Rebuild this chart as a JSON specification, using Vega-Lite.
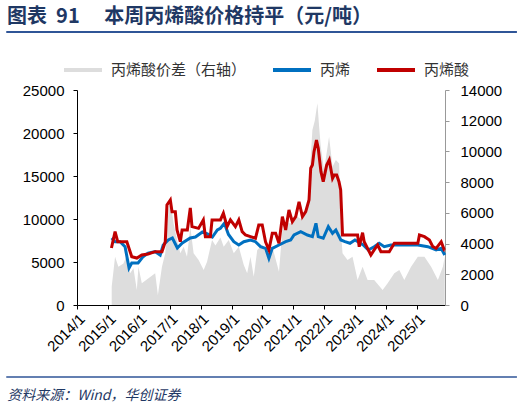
{
  "$schema": "https://vega.github.io/schema/vega-lite/v6.json",
  "description": "Acrylic acid price vs propylene price and acrylic acid spread",
  "width": 368,
  "height": 215,
  "autosize": {"type": "none"},
  "padding": {"left": 77, "top": 90, "right": 78, "bottom": 104},
  "title": {
    "text": "图表\u00a0\u00a091\u3000\u00a0本周丙烯酸价格持平（元/吨）",
    "anchor": "start",
    "frame": "group",
    "dx": -70,
    "offset": 4,
    "font": "Noto Sans CJK SC",
    "fontSize": 20,
    "fontWeight": "bold",
    "color": "#1F3864"
  },
  "datasets": {
    "spread": [
      {"d": "2015-02-15", "v": 1190}, {"d": "2015-03-27", "v": 3140}, {"d": "2015-05-05", "v": 2490},
      {"d": "2015-07-04", "v": 2710}, {"d": "2015-08-13", "v": 3260}, {"d": "2015-09-21", "v": 2060},
      {"d": "2015-10-30", "v": 2390}, {"d": "2015-12-09", "v": 980}, {"d": "2015-12-28", "v": 2490},
      {"d": "2016-02-06", "v": 1410}, {"d": "2016-04-25", "v": 1740}, {"d": "2016-07-13", "v": 2060},
      {"d": "2016-08-14", "v": 650}, {"d": "2016-10-01", "v": 2490}, {"d": "2016-11-09", "v": 3370},
      {"d": "2016-12-18", "v": 6180}, {"d": "2017-01-08", "v": 6840}, {"d": "2017-02-15", "v": 5320},
      {"d": "2017-03-28", "v": 4230}, {"d": "2017-05-06", "v": 3370}, {"d": "2017-06-14", "v": 3800},
      {"d": "2017-07-24", "v": 3140}, {"d": "2017-09-01", "v": 5100}, {"d": "2017-10-10", "v": 3370},
      {"d": "2017-12-08", "v": 2930}, {"d": "2018-02-06", "v": 2280}, {"d": "2018-03-18", "v": 2820},
      {"d": "2018-05-16", "v": 4230}, {"d": "2018-06-25", "v": 3880}, {"d": "2018-08-23", "v": 4400},
      {"d": "2018-10-01", "v": 3800}, {"d": "2018-11-29", "v": 4230}, {"d": "2019-01-28", "v": 3370},
      {"d": "2019-03-28", "v": 3800}, {"d": "2019-05-26", "v": 2600}, {"d": "2019-07-05", "v": 2060},
      {"d": "2019-08-13", "v": 3140}, {"d": "2019-09-21", "v": 1840}, {"d": "2019-11-01", "v": 3580},
      {"d": "2019-12-30", "v": 3910}, {"d": "2020-02-27", "v": 3140}, {"d": "2020-04-27", "v": 3800},
      {"d": "2020-07-15", "v": 2170}, {"d": "2020-08-24", "v": 4880}, {"d": "2020-10-22", "v": 5320},
      {"d": "2020-12-20", "v": 5320}, {"d": "2021-02-18", "v": 5750}, {"d": "2021-04-18", "v": 5530},
      {"d": "2021-06-16", "v": 6400}, {"d": "2021-07-13", "v": 8500}, {"d": "2021-08-14", "v": 11390},
      {"d": "2021-09-11", "v": 12000}, {"d": "2021-10-12", "v": 13130}, {"d": "2021-11-03", "v": 11500},
      {"d": "2021-11-21", "v": 10300}, {"d": "2021-12-30", "v": 8790}, {"d": "2022-02-01", "v": 10000},
      {"d": "2022-02-27", "v": 10960}, {"d": "2022-04-09", "v": 9000}, {"d": "2022-05-18", "v": 9440},
      {"d": "2022-06-26", "v": 9220}, {"d": "2022-07-16", "v": 4880}, {"d": "2022-08-05", "v": 3370},
      {"d": "2022-10-03", "v": 2930}, {"d": "2022-12-01", "v": 3140}, {"d": "2023-01-30", "v": 1630},
      {"d": "2023-03-30", "v": 2490}, {"d": "2023-05-28", "v": 1630}, {"d": "2023-08-14", "v": 1630},
      {"d": "2023-11-22", "v": 980}, {"d": "2024-01-20", "v": 1410}, {"d": "2024-04-08", "v": 2060},
      {"d": "2024-06-06", "v": 2280}, {"d": "2024-08-04", "v": 1630}, {"d": "2024-10-23", "v": 2490},
      {"d": "2025-01-11", "v": 3140}, {"d": "2025-03-30", "v": 3140}, {"d": "2025-06-17", "v": 2490},
      {"d": "2025-09-05", "v": 1630}, {"d": "2025-11-03", "v": 2490}, {"d": "2025-11-25", "v": 3140}
    ],
    "price": [
      {"d": "2015-02-15", "k": "丙烯", "v": 7780}, {"d": "2015-03-27", "k": "丙烯", "v": 7360},
      {"d": "2015-05-25", "k": "丙烯", "v": 7360}, {"d": "2015-07-23", "k": "丙烯", "v": 6780},
      {"d": "2015-09-08", "k": "丙烯", "v": 4300}, {"d": "2015-10-10", "k": "丙烯", "v": 4880},
      {"d": "2015-12-24", "k": "丙烯", "v": 4880}, {"d": "2016-02-21", "k": "丙烯", "v": 5620},
      {"d": "2016-04-20", "k": "丙烯", "v": 6040}, {"d": "2016-07-13", "k": "丙烯", "v": 6200},
      {"d": "2016-09-10", "k": "丙烯", "v": 5810}, {"d": "2016-10-16", "k": "丙烯", "v": 6980},
      {"d": "2016-12-15", "k": "丙烯", "v": 7560}, {"d": "2017-02-01", "k": "丙烯", "v": 7790},
      {"d": "2017-04-01", "k": "丙烯", "v": 6630}, {"d": "2017-05-30", "k": "丙烯", "v": 7210},
      {"d": "2017-09-01", "k": "丙烯", "v": 7790}, {"d": "2017-10-31", "k": "丙烯", "v": 7910},
      {"d": "2018-01-22", "k": "丙烯", "v": 8490}, {"d": "2018-03-22", "k": "丙烯", "v": 8260},
      {"d": "2018-05-20", "k": "丙烯", "v": 7900}, {"d": "2018-07-18", "k": "丙烯", "v": 8720},
      {"d": "2018-08-23", "k": "丙烯", "v": 8920}, {"d": "2018-10-09", "k": "丙烯", "v": 9500},
      {"d": "2018-11-26", "k": "丙烯", "v": 8200}, {"d": "2019-01-28", "k": "丙烯", "v": 7360},
      {"d": "2019-03-28", "k": "丙烯", "v": 6980}, {"d": "2019-05-26", "k": "丙烯", "v": 7360},
      {"d": "2019-08-13", "k": "丙烯", "v": 7560}, {"d": "2019-10-11", "k": "丙烯", "v": 7360},
      {"d": "2019-12-10", "k": "丙烯", "v": 6780}, {"d": "2020-02-07", "k": "丙烯", "v": 6590},
      {"d": "2020-03-18", "k": "丙烯", "v": 5430}, {"d": "2020-04-27", "k": "丙烯", "v": 6590},
      {"d": "2020-07-15", "k": "丙烯", "v": 6980}, {"d": "2020-10-02", "k": "丙烯", "v": 7360},
      {"d": "2020-11-30", "k": "丙烯", "v": 7560}, {"d": "2021-01-09", "k": "丙烯", "v": 8140},
      {"d": "2021-03-29", "k": "丙烯", "v": 8530}, {"d": "2021-06-16", "k": "丙烯", "v": 8140},
      {"d": "2021-08-14", "k": "丙烯", "v": 7950}, {"d": "2021-09-25", "k": "丙烯", "v": 9500},
      {"d": "2021-10-22", "k": "丙烯", "v": 7950}, {"d": "2021-12-20", "k": "丙烯", "v": 7760},
      {"d": "2022-02-18", "k": "丙烯", "v": 9110}, {"d": "2022-04-09", "k": "丙烯", "v": 8340},
      {"d": "2022-05-18", "k": "丙烯", "v": 8720}, {"d": "2022-07-16", "k": "丙烯", "v": 7560},
      {"d": "2022-09-03", "k": "丙烯", "v": 7360}, {"d": "2022-11-01", "k": "丙烯", "v": 7180},
      {"d": "2022-12-30", "k": "丙烯", "v": 7560}, {"d": "2023-02-03", "k": "丙烯", "v": 7360},
      {"d": "2023-04-07", "k": "丙烯", "v": 6980}, {"d": "2023-06-05", "k": "丙烯", "v": 6400},
      {"d": "2023-08-14", "k": "丙烯", "v": 6780}, {"d": "2023-10-12", "k": "丙烯", "v": 7180},
      {"d": "2023-12-11", "k": "丙烯", "v": 6780}, {"d": "2024-02-28", "k": "丙烯", "v": 6980},
      {"d": "2024-05-17", "k": "丙烯", "v": 6980}, {"d": "2024-09-13", "k": "丙烯", "v": 6980},
      {"d": "2025-01-11", "k": "丙烯", "v": 6980}, {"d": "2025-05-09", "k": "丙烯", "v": 6780},
      {"d": "2025-08-15", "k": "丙烯", "v": 6400}, {"d": "2025-10-14", "k": "丙烯", "v": 6590},
      {"d": "2025-11-25", "k": "丙烯", "v": 5810},
      {"d": "2015-02-12", "k": "丙烯酸", "v": 6630}, {"d": "2015-03-27", "k": "丙烯酸", "v": 8530},
      {"d": "2015-04-27", "k": "丙烯酸", "v": 7360}, {"d": "2015-05-25", "k": "丙烯酸", "v": 7360},
      {"d": "2015-08-13", "k": "丙烯酸", "v": 7360}, {"d": "2015-10-10", "k": "丙烯酸", "v": 5620},
      {"d": "2015-12-09", "k": "丙烯酸", "v": 5460}, {"d": "2016-02-06", "k": "丙烯酸", "v": 5810},
      {"d": "2016-04-20", "k": "丙烯酸", "v": 5930}, {"d": "2016-07-13", "k": "丙烯酸", "v": 6200},
      {"d": "2016-10-01", "k": "丙烯酸", "v": 6200}, {"d": "2016-11-09", "k": "丙烯酸", "v": 7360},
      {"d": "2016-11-29", "k": "丙烯酸", "v": 11630}, {"d": "2017-01-08", "k": "丙烯酸", "v": 12210},
      {"d": "2017-01-28", "k": "丙烯酸", "v": 10850}, {"d": "2017-03-08", "k": "丙烯酸", "v": 10850},
      {"d": "2017-03-28", "k": "丙烯酸", "v": 8720}, {"d": "2017-05-06", "k": "丙烯酸", "v": 7360},
      {"d": "2017-05-27", "k": "丙烯酸", "v": 8720}, {"d": "2017-07-28", "k": "丙烯酸", "v": 8720},
      {"d": "2017-09-01", "k": "丙烯酸", "v": 11280}, {"d": "2017-09-21", "k": "丙烯酸", "v": 9110},
      {"d": "2017-12-07", "k": "丙烯酸", "v": 8910}, {"d": "2018-02-02", "k": "丙烯酸", "v": 9890},
      {"d": "2018-02-26", "k": "丙烯酸", "v": 7950}, {"d": "2018-04-26", "k": "丙烯酸", "v": 7950},
      {"d": "2018-05-16", "k": "丙烯酸", "v": 9890}, {"d": "2018-08-23", "k": "丙烯酸", "v": 9890},
      {"d": "2018-09-27", "k": "丙烯酸", "v": 10670}, {"d": "2018-11-10", "k": "丙烯酸", "v": 9110},
      {"d": "2018-12-19", "k": "丙烯酸", "v": 9890}, {"d": "2019-02-16", "k": "丙烯酸", "v": 9110},
      {"d": "2019-03-28", "k": "丙烯酸", "v": 9890}, {"d": "2019-05-07", "k": "丙烯酸", "v": 8530},
      {"d": "2019-06-15", "k": "丙烯酸", "v": 8140}, {"d": "2019-08-13", "k": "丙烯酸", "v": 7950},
      {"d": "2019-10-11", "k": "丙烯酸", "v": 7760}, {"d": "2019-11-19", "k": "丙烯酸", "v": 9300},
      {"d": "2019-12-30", "k": "丙烯酸", "v": 9300}, {"d": "2020-02-07", "k": "丙烯酸", "v": 7360},
      {"d": "2020-03-18", "k": "丙烯酸", "v": 6400}, {"d": "2020-04-27", "k": "丙烯酸", "v": 8340},
      {"d": "2020-06-05", "k": "丙烯酸", "v": 8340}, {"d": "2020-07-15", "k": "丙烯酸", "v": 7180},
      {"d": "2020-08-24", "k": "丙烯酸", "v": 10270}, {"d": "2020-10-02", "k": "丙烯酸", "v": 8720},
      {"d": "2020-11-10", "k": "丙烯酸", "v": 11050}, {"d": "2020-12-20", "k": "丙烯酸", "v": 9690},
      {"d": "2021-01-29", "k": "丙烯酸", "v": 10270}, {"d": "2021-03-09", "k": "丙烯酸", "v": 12010},
      {"d": "2021-04-18", "k": "丙烯酸", "v": 10270}, {"d": "2021-05-27", "k": "丙烯酸", "v": 10850},
      {"d": "2021-07-05", "k": "丙烯酸", "v": 12210}, {"d": "2021-07-25", "k": "丙烯酸", "v": 15900},
      {"d": "2021-08-14", "k": "丙烯酸", "v": 16280}, {"d": "2021-09-02", "k": "丙烯酸", "v": 17830},
      {"d": "2021-10-01", "k": "丙烯酸", "v": 19190}, {"d": "2021-10-22", "k": "丙烯酸", "v": 18220},
      {"d": "2021-11-23", "k": "丙烯酸", "v": 15500}, {"d": "2021-12-20", "k": "丙烯酸", "v": 14340},
      {"d": "2022-01-30", "k": "丙烯酸", "v": 16280}, {"d": "2022-03-01", "k": "丙烯酸", "v": 16860},
      {"d": "2022-04-09", "k": "丙烯酸", "v": 14730}, {"d": "2022-04-29", "k": "丙烯酸", "v": 15120},
      {"d": "2022-05-28", "k": "丙烯酸", "v": 15120}, {"d": "2022-06-24", "k": "丙烯酸", "v": 14340},
      {"d": "2022-07-14", "k": "丙烯酸", "v": 13370}, {"d": "2022-08-05", "k": "丙烯酸", "v": 8140},
      {"d": "2023-01-30", "k": "丙烯酸", "v": 8140}, {"d": "2023-02-18", "k": "丙烯酸", "v": 6780},
      {"d": "2023-03-30", "k": "丙烯酸", "v": 8410}, {"d": "2023-04-18", "k": "丙烯酸", "v": 7360},
      {"d": "2023-05-28", "k": "丙烯酸", "v": 6590}, {"d": "2023-07-06", "k": "丙烯酸", "v": 5810},
      {"d": "2023-08-14", "k": "丙烯酸", "v": 6400}, {"d": "2023-09-24", "k": "丙烯酸", "v": 6980},
      {"d": "2023-11-02", "k": "丙烯酸", "v": 6200}, {"d": "2024-02-08", "k": "丙烯酸", "v": 6200},
      {"d": "2024-04-08", "k": "丙烯酸", "v": 7180}, {"d": "2024-08-25", "k": "丙烯酸", "v": 7180},
      {"d": "2025-01-11", "k": "丙烯酸", "v": 7180}, {"d": "2025-01-30", "k": "丙烯酸", "v": 8140},
      {"d": "2025-03-30", "k": "丙烯酸", "v": 7950}, {"d": "2025-05-28", "k": "丙烯酸", "v": 7560},
      {"d": "2025-07-07", "k": "丙烯酸", "v": 6780}, {"d": "2025-08-15", "k": "丙烯酸", "v": 6590},
      {"d": "2025-10-14", "k": "丙烯酸", "v": 7360}, {"d": "2025-11-20", "k": "丙烯酸", "v": 6400},
      {"d": "2025-11-25", "k": "丙烯酸", "v": 6400}
    ],
    "frame": [
      {"a": "2011-09-18", "b": "2028-03-27", "y": 31750, "w": 2},
      {"a": "2011-09-18", "b": "2028-03-27", "y": -8370, "w": 1.5}
    ]
  },
  "resolve": {"scale": {"y": "independent"}},
  "layer": [
    {
      "data": {"name": "spread"},
      "mark": {"type": "area", "color": "#DDDDDD", "interpolate": "linear"},
      "encoding": {
        "x": {
          "field": "d",
          "type": "temporal",
          "scale": {"domain": ["2014-01-01", "2025-11-28"]},
          "axis": {
            "tickCount": {"interval": "year", "step": 1},
            "format": "%Y/%-m",
            "labelAngle": -45,
            "labelFontSize": 15,
            "labelPadding": 2,
            "labelOverlap": false,
            "title": null
          }
        },
        "y": {
          "field": "v",
          "type": "quantitative",
          "scale": {"domain": [0, 14000], "nice": false},
          "axis": {
            "orient": "right",
            "values": [0, 2000, 4000, 6000, 8000, 10000, 12000, 14000],
            "format": "d",
            "domainColor": "#999999",
            "tickColor": "#999999",
            "labelPadding": 11,
            "title": null
          }
        },
        "color": {
          "datum": "丙烯酸价差（右轴）",
          "title": null,
          "scale": {
            "domain": ["丙烯酸价差（右轴）", "丙烯", "丙烯酸"],
            "range": ["#DDDDDD", "#0070C0", "#C00000"]
          },
          "legend": {
            "orient": "none",
            "legendX": -15,
            "legendY": -41,
            "direction": "horizontal",
            "title": null,
            "symbolType": "stroke",
            "symbolSize": 1444,
            "symbolStrokeWidth": 4,
            "labelFont": "Noto Sans CJK SC",
            "labelFontSize": 15,
            "labelColor": "#333333",
            "labelOffset": 7,
            "columnPadding": 18
          }
        }
      }
    },
    {
      "layer": [
        {
          "data": {"name": "price"},
          "mark": {"type": "line", "strokeWidth": 3, "interpolate": "linear"},
          "encoding": {
            "x": {
              "field": "d",
              "type": "temporal",
              "axis": {
                "tickCount": {"interval": "year", "step": 1},
                "format": "%Y/%-m",
                "labelAngle": -45,
                "labelFontSize": 15,
                "labelPadding": 2,
                "labelOverlap": false,
                "title": null
              }
            },
            "y": {
              "field": "v",
              "type": "quantitative",
              "scale": {"domain": [0, 25000], "nice": false},
              "axis": {
                "orient": "left",
                "values": [0, 5000, 10000, 15000, 20000, 25000],
                "format": "d",
                "labelPadding": 9,
                "title": null
              }
            },
            "color": {"field": "k", "type": "nominal", "title": null}
          }
        },
        {
          "data": {"name": "frame"},
          "mark": {"type": "rule", "color": "#2F5597"},
          "encoding": {
            "x": {"field": "a", "type": "temporal"},
            "x2": {"field": "b"},
            "y": {"field": "y", "type": "quantitative"},
            "strokeWidth": {"field": "w", "type": "quantitative", "scale": null}
          }
        },
        {
          "data": {"values": [{"a": "2011-09-29", "y": -10580, "t": "资料来源：Wind，华创证券"}]},
          "mark": {
            "type": "text",
            "align": "left",
            "baseline": "middle",
            "font": "Noto Sans CJK SC",
            "fontSize": 14,
            "fontStyle": "italic",
            "color": "#1F3864"
          },
          "encoding": {
            "x": {"field": "a", "type": "temporal"},
            "y": {"field": "y", "type": "quantitative"},
            "text": {"field": "t"}
          }
        }
      ]
    }
  ],
  "config": {
    "view": {"stroke": null},
    "font": "Liberation Sans",
    "axis": {
      "grid": false,
      "labelFont": "Liberation Sans",
      "labelFontSize": 15,
      "labelColor": "#000000",
      "domainColor": "#000000",
      "tickColor": "#000000",
      "tickSize": 4
    },
    "axisX": {"labelOverlap": false}
  }
}
